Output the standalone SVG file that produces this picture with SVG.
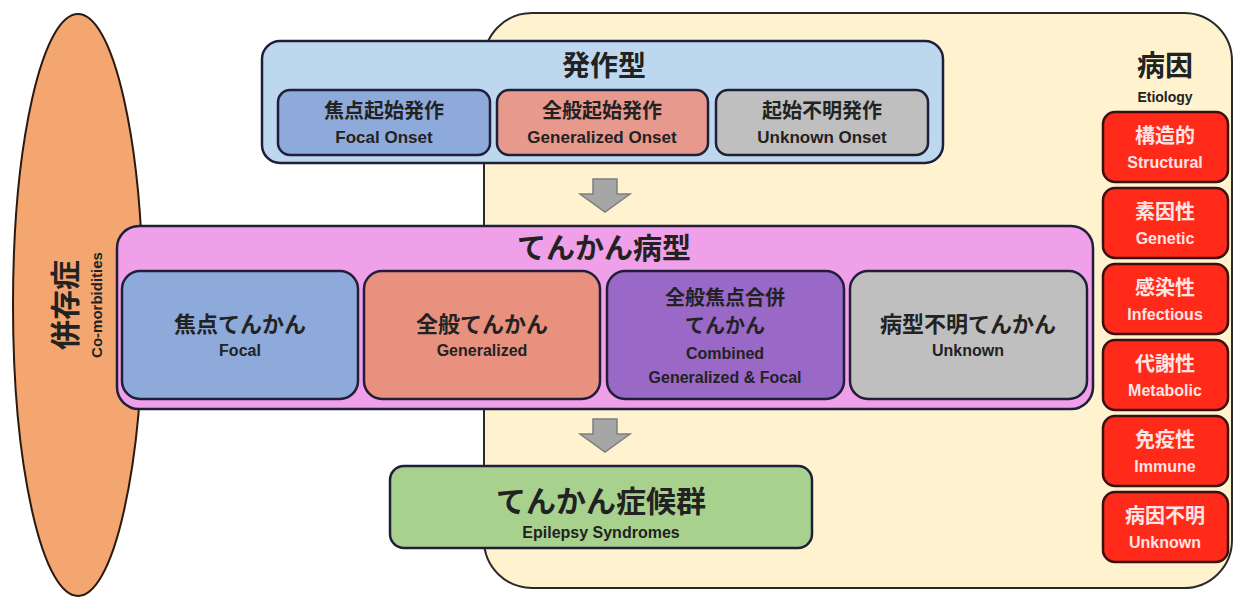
<svg xmlns="http://www.w3.org/2000/svg" width="1242" height="598" viewBox="0 0 1242 598">
<style>
.jp{font-family:"Noto Sans CJK JP","Noto Sans",sans-serif;font-weight:bold;text-anchor:middle;fill:#222}
.en{font-family:"Liberation Sans Narrow","Liberation Sans",sans-serif;font-weight:bold;text-anchor:middle;fill:#222}
.box{stroke:#1f1f3a;stroke-width:2.5}
.red{fill:#ff2a1a;stroke:#3a1010;stroke-width:2.5}
.wt{fill:#ffe4e4}
.arrow{fill:#a6a6a6;stroke:#7f7f7f;stroke-width:1.5}
</style>
<rect width="1242" height="598" fill="#ffffff"/>
<g id="comorbidities">
<ellipse cx="78" cy="305" rx="65" ry="291" fill="#f4a670" stroke="#2a1a10" stroke-width="2"/>
<text class="jp" font-size="30" transform="translate(66,305) rotate(-90)" dy="10">併存症</text>
<text class="en" font-size="15" transform="translate(97,305) rotate(-90)" dy="5">Co-morbidities</text>
</g>
<g id="etiology-area">
<rect x="484" y="13" width="748" height="575" rx="48" fill="#fff2cf" stroke="#2a2a2a" stroke-width="2"/>
</g>
<g id="seizure-type">
<rect class="box" x="262" y="41" width="681" height="122" rx="18" fill="#bdd7ee"/>
<text class="jp" x="604" y="76" font-size="28">発作型</text>
<g id="focal-onset">
<rect class="box" x="278" y="90" width="212" height="65" rx="12" fill="#8eaadb"/>
<text class="jp" x="384" y="118" font-size="20">焦点起始発作</text>
<text class="en" x="384" y="143" font-size="17">Focal Onset</text>
</g>
<g id="generalized-onset">
<rect class="box" x="497" y="90" width="211" height="65" rx="12" fill="#e8998d"/>
<text class="jp" x="602" y="118" font-size="20">全般起始発作</text>
<text class="en" x="602" y="143" font-size="17">Generalized Onset</text>
</g>
<g id="unknown-onset">
<rect class="box" x="716" y="90" width="212" height="65" rx="12" fill="#bfbfbf"/>
<text class="jp" x="822" y="118" font-size="20">起始不明発作</text>
<text class="en" x="822" y="143" font-size="17">Unknown Onset</text>
</g>
</g>
<g id="epilepsy-type">
<rect class="box" x="117" y="226" width="976" height="183" rx="22" fill="#efa0e8"/>
<text class="jp" x="604" y="259" font-size="29">てんかん病型</text>
<g id="focal">
<rect class="box" x="122" y="271" width="236" height="128" rx="18" fill="#8eaadb"/>
<text class="jp" x="240" y="332" font-size="22">焦点てんかん</text>
<text class="en" x="240" y="356" font-size="16">Focal</text>
</g>
<g id="generalized">
<rect class="box" x="364" y="271" width="236" height="128" rx="18" fill="#e8917f"/>
<text class="jp" x="482" y="332" font-size="22">全般てんかん</text>
<text class="en" x="482" y="356" font-size="16">Generalized</text>
</g>
<g id="combined">
<rect class="box" x="607" y="271" width="237" height="128" rx="18" fill="#9a68c6"/>
<text class="jp" x="725" y="305" font-size="20">全般焦点合併</text>
<text class="jp" x="725" y="333" font-size="20">てんかん</text>
<text class="en" x="725" y="359" font-size="16">Combined</text>
<text class="en" x="725" y="383" font-size="16">Generalized &amp; Focal</text>
</g>
<g id="unknown">
<rect class="box" x="850" y="271" width="237" height="128" rx="18" fill="#bfbfbf"/>
<text class="jp" x="968" y="332" font-size="22">病型不明てんかん</text>
<text class="en" x="968" y="356" font-size="16">Unknown</text>
</g>
</g>
<g id="syndromes">
<rect class="box" x="390" y="466" width="422" height="82" rx="14" fill="#a9d18e"/>
<text class="jp" x="601" y="512" font-size="30">てんかん症候群</text>
<text class="en" x="601" y="538" font-size="16">Epilepsy Syndromes</text>
</g>
<g id="connectors">
<path class="arrow" d="M593,179 H617 V194 H630 L605,212 L580,194 H593 Z"/>
<path class="arrow" d="M593,419 H617 V434 H630 L605,452 L580,434 H593 Z"/>
</g>
<g id="etiology">
<text class="jp" x="1165" y="76" font-size="28">病因</text>
<text class="en" x="1165" y="102" font-size="14">Etiology</text>
<g id="structural">
<rect class="red" x="1103" y="112" width="125" height="70" rx="12"/>
<text class="jp wt" x="1165" y="143" font-size="20">構造的</text>
<text class="en wt" x="1165" y="168" font-size="16">Structural</text>
</g>
<g id="genetic">
<rect class="red" x="1103" y="188" width="125" height="70" rx="12"/>
<text class="jp wt" x="1165" y="219" font-size="20">素因性</text>
<text class="en wt" x="1165" y="244" font-size="16">Genetic</text>
</g>
<g id="infectious">
<rect class="red" x="1103" y="264" width="125" height="70" rx="12"/>
<text class="jp wt" x="1165" y="295" font-size="20">感染性</text>
<text class="en wt" x="1165" y="320" font-size="16">Infectious</text>
</g>
<g id="metabolic">
<rect class="red" x="1103" y="340" width="125" height="70" rx="12"/>
<text class="jp wt" x="1165" y="371" font-size="20">代謝性</text>
<text class="en wt" x="1165" y="396" font-size="16">Metabolic</text>
</g>
<g id="immune">
<rect class="red" x="1103" y="416" width="125" height="70" rx="12"/>
<text class="jp wt" x="1165" y="447" font-size="20">免疫性</text>
<text class="en wt" x="1165" y="472" font-size="16">Immune</text>
</g>
<g id="etiology-unknown">
<rect class="red" x="1103" y="492" width="125" height="70" rx="12"/>
<text class="jp wt" x="1165" y="523" font-size="20">病因不明</text>
<text class="en wt" x="1165" y="548" font-size="16">Unknown</text>
</g>
</g>
</svg>
